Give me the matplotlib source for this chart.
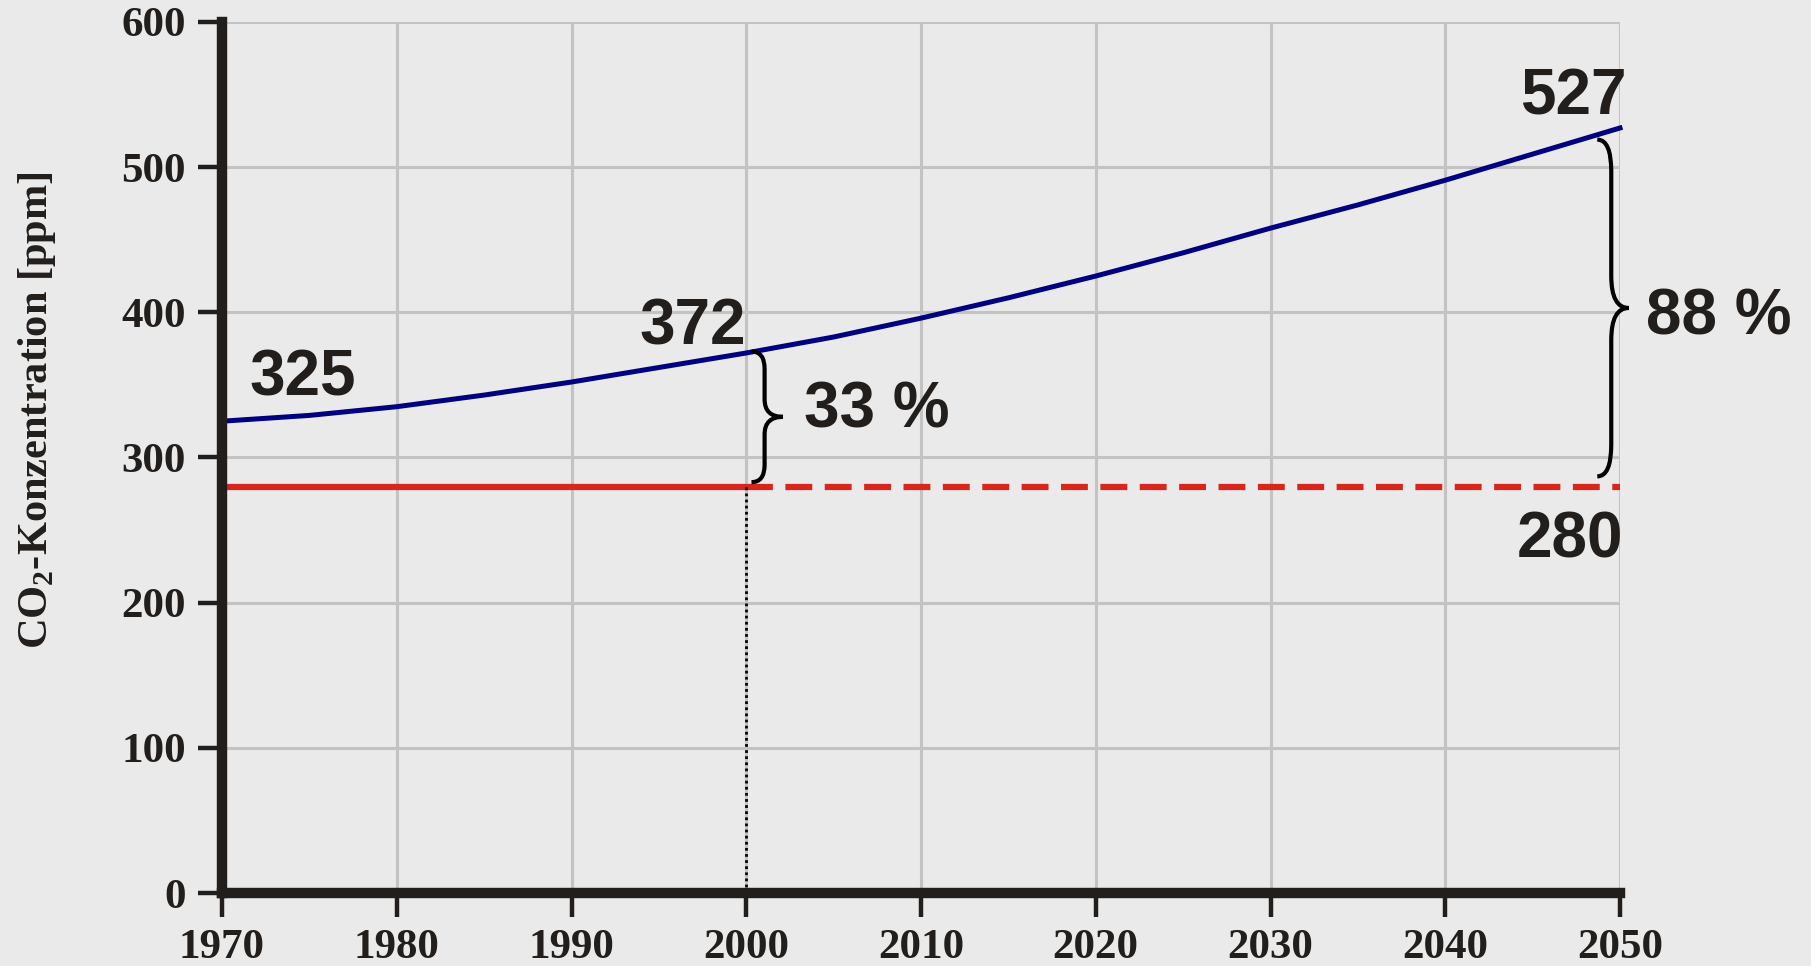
import matplotlib.pyplot as plt
from matplotlib.path import Path
from matplotlib.patches import PathPatch

plt.rcParams['mathtext.fontset'] = 'custom'
plt.rcParams['mathtext.rm'] = 'Liberation Serif:bold'
plt.rcParams['mathtext.bf'] = 'Liberation Serif:bold'

years = [1970, 1975, 1980, 1985, 1990, 1995, 2000, 2005, 2010, 2015,
         2020, 2025, 2030, 2035, 2040, 2045, 2050]
co2 = [325, 329, 335, 343, 352, 362, 372, 383, 396, 410,
       425, 441, 458, 474, 491, 509, 527]
preind = 280
year_now = 2000
year_end = 2050
lab_start = '325'
lab_now = '372'
lab_end = '527'
pct_now = '33 %'
pct_end = '88 %'

bg = '#eaeaea'
ink = '#221e1c'

fig = plt.figure(figsize=(18.11, 9.66), dpi=100, facecolor=bg)
ax = fig.add_axes([222/1811, 1-893/966, (1620-222)/1811, (893-22)/966])
ax.set_facecolor(bg)

ax.set_xlim(1970, 2050)
ax.set_ylim(0, 600)
ax.set_xticks(range(1970, 2051, 10))
ax.set_yticks(range(0, 601, 100))
ax.grid(True, color='#c3c3c3', lw=2.2, zorder=0)
ax.set_axisbelow(True)

for s in ['top', 'right']:
    ax.spines[s].set_visible(False)
for s in ['left', 'bottom']:
    ax.spines[s].set_linewidth(7.5)
    ax.spines[s].set_color(ink)
    ax.spines[s].set_zorder(5)

ax.tick_params(direction='out', length=17, width=3.2, color=ink, pad=9,
               labelsize=31, labelcolor=ink)
for lab in ax.get_xticklabels() + ax.get_yticklabels():
    lab.set_fontfamily('Liberation Serif')
    lab.set_fontweight('bold')

# pre-industrial level
ax.plot([1970, year_now], [preind, preind], color='#d9261c', lw=4.5,
        solid_capstyle='butt', zorder=3, clip_on=False)
ax.plot([year_now, year_end], [preind, preind], color='#d9261c', lw=4.5,
        dashes=(4.3, 2.0), dash_capstyle='butt', zorder=3, clip_on=False)
ax.plot([year_now, year_now], [0, preind], color='black', lw=2,
        linestyle=(0, (1, 1.2)), zorder=3)

# concentration
ax.plot(years, co2, color='#000080', lw=3.6, zorder=4, clip_on=False)


def brace(x0, xv, xp, yt, yb, r):
    ym = (yt + yb) / 2
    verts = [(x0, yt), (xv, yt), (xv, yt - r),
             (xv, ym + r), (xv, ym), (xp, ym),
             (xv, ym), (xv, ym - r),
             (xv, yb + r), (xv, yb), (x0, yb)]
    codes = [Path.MOVETO, Path.CURVE3, Path.CURVE3,
             Path.LINETO, Path.CURVE3, Path.CURVE3,
             Path.CURVE3, Path.CURVE3,
             Path.LINETO, Path.CURVE3, Path.CURVE3]
    ax.add_patch(PathPatch(Path(verts, codes), fill=False, lw=3, color='black',
                           zorder=6, clip_on=False))


brace(2000.3, 2001.05, 2002.1, 373, 283, 12)
brace(2048.7, 2049.5, 2050.5, 519, 287, 22)

big = dict(fontfamily='Liberation Sans', fontweight='bold', fontsize=46,
           color=ink, zorder=7, clip_on=False)
ax.text(1971.6, 343, lab_start, ha='left', va='baseline', **big)
ax.text(2000.0, 378, lab_now, ha='right', va='baseline', **big)
ax.text(2050.4, 536, lab_end, ha='right', va='baseline', **big)
ax.text(2050.2, 231, str(preind), ha='right', va='baseline', **big)
ax.text(2003.3, 321, pct_now, ha='left', va='baseline', **big)
ax.text(2051.5, 385, pct_end, ha='left', va='baseline', **big)

fig.text(37/1811, 1-410/966, r'CO$_\mathbf{2}$-Konzentration [ppm]', rotation=90,
         ha='center', va='center', fontfamily='Liberation Serif',
         fontweight='bold', fontsize=30.5, color=ink)

fig.savefig('out.png', dpi=100, facecolor=bg)
